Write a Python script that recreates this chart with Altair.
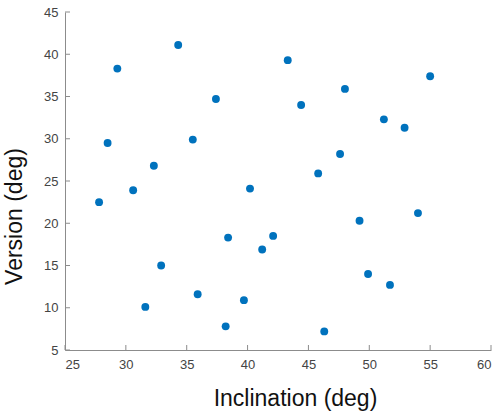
import altair as alt
import pandas as pd

inclination = [27.8, 28.5, 29.3, 30.6, 31.6, 32.3, 32.9, 34.3, 35.5, 35.9,
               37.4, 38.2, 38.4, 39.7, 40.2, 41.2, 42.1, 43.3, 44.4, 45.8,
               46.3, 47.6, 48.0, 49.2, 49.9, 51.2, 51.7, 52.9, 54.0, 55.0]
version = [22.5, 29.5, 38.3, 23.9, 10.1, 26.8, 15.0, 41.1, 29.9, 11.6,
           34.7, 7.8, 18.3, 10.9, 24.1, 16.9, 18.5, 39.3, 34.0, 25.9,
           7.2, 28.2, 35.9, 20.3, 14.0, 32.3, 12.7, 31.3, 21.2, 37.4]
x_ticks = [25, 30, 35, 40, 45, 50, 55, 60]
y_ticks = [5, 10, 15, 20, 25, 30, 35, 40, 45]

W, H = 426, 338
FONT = "Liberation Sans"

df = pd.DataFrame({"Inclination": inclination, "Version": version})
xt = pd.DataFrame({"t": x_ticks})
yt = pd.DataFrame({"t": y_ticks})

xscale = alt.Scale(domain=[25, 60], nice=False, zero=False)
yscale = alt.Scale(domain=[5, 45], nice=False, zero=False)

points = alt.Chart(df).mark_circle(size=62, opacity=1, color="#0072BD").encode(
    x=alt.X("Inclination:Q", scale=xscale,
            axis=alt.Axis(values=x_ticks, title="Inclination (deg)", grid=False,
                          tickSize=0, labelPadding=8, labelFontSize=13,
                          labelColor="#444444", labelFont=FONT,
                          domainColor="#8c8c8c", domainWidth=1,
                          titleFont=FONT, titleFontSize=23, titleFontWeight="normal",
                          titleColor="#111111", titleX=230, titleY=55,
                          titleAlign="center", titleBaseline="alphabetic")),
    y=alt.Y("Version:Q", scale=yscale,
            axis=alt.Axis(values=y_ticks, title="Version (deg)", grid=False,
                          tickSize=0, labelPadding=7, labelFontSize=13,
                          labelColor="#444444", labelFont=FONT,
                          domainColor="#8c8c8c", domainWidth=1,
                          titleFont=FONT, titleFontSize=23, titleFontWeight="normal",
                          titleColor="#111111", titleX=-51, titleY=204,
                          titleAngle=270, titleAlign="center", titleBaseline="middle")),
)

xticks = alt.Chart(xt).mark_rule(color="#8c8c8c", strokeWidth=1).encode(
    x=alt.X("t:Q", scale=xscale),
    y=alt.value(H),
    y2=alt.value(H - 5),
)
yticks = alt.Chart(yt).mark_rule(color="#8c8c8c", strokeWidth=1).encode(
    y=alt.Y("t:Q", scale=yscale),
    x=alt.value(0),
    x2=alt.value(5),
)

chart = alt.layer(points, xticks, yticks).properties(
    width=W, height=H, autosize="none",
    padding={"left": 65, "top": 12, "right": 10, "bottom": 61},
    background="white",
).configure_view(stroke=None)

chart.save("out.html", embed_options={"renderer": "svg", "actions": False})
